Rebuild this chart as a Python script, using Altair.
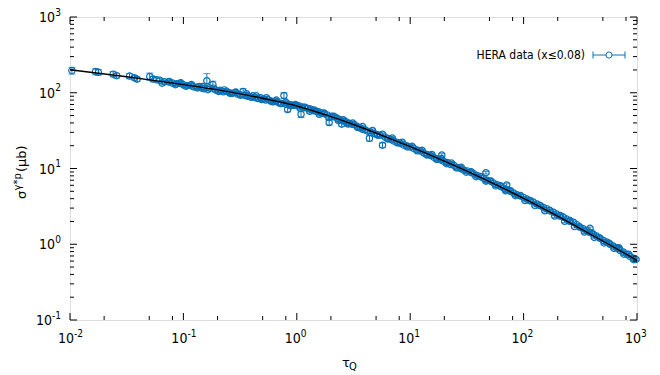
import altair as alt
import pandas as pd

W, H = 567, 303
BLUE = "#0a70b6"
FONT = "DejaVu Sans Condensed, DejaVu Sans"
FONT_R = "DejaVu Sans"

# ---- data: tau_Q, sigma (microbarn), error ----
pt_x = [0.0104, 0.0168, 0.0178, 0.0240, 0.0258, 0.0335, 0.0370, 0.0390, 0.0505, 0.0540,
        0.0580, 0.0620, 0.0680, 0.0740, 0.0800, 0.0870, 0.0930, 0.100, 0.108, 0.115,
        0.122, 0.130, 0.138, 0.145, 0.152, 0.161, 0.170, 0.182, 0.190, 0.200,
        0.212, 0.225, 0.240, 0.255, 0.270, 0.285, 0.300, 0.315, 0.336, 0.350,
        0.370, 0.390, 0.410, 0.430, 0.455, 0.480, 0.505, 0.530, 0.560, 0.590,
        0.620, 0.650, 0.690, 0.730, 0.770, 0.800, 0.830, 0.860, 0.900, 0.950,
        1.00, 1.05, 1.09, 1.12, 1.18, 1.25, 1.32, 1.40, 1.48, 1.56,
        1.65, 1.75, 1.85, 1.93, 2.03, 2.15, 2.28, 2.40, 2.49, 2.60,
        2.75, 2.90, 3.05, 3.20, 3.40, 3.60, 3.80, 4.00, 4.37, 4.50,
        4.80, 5.10, 5.40, 5.70, 6.00, 6.40, 6.80, 7.20, 7.70, 8.20,
        8.70, 9.30, 10.0, 10.7, 11.5, 12.3, 13.2, 14.1, 15.1, 16.2,
        17.3, 18.5, 19.0, 19.8, 21.2, 22.7, 24.3, 26.0, 27.8, 29.7,
        31.8, 34.0, 36.4, 38.9, 41.6, 44.5, 46.6, 47.6, 50.9, 54.5,
        58.3, 62.4, 66.7, 71.0, 71.4, 76.4, 81.7, 87.4, 93.5, 100,
        107, 114, 122, 131, 140, 150, 160, 171, 183, 196,
        210, 224, 240, 257, 275, 294, 314, 336, 360, 385,
        395, 412, 441, 472, 505, 540, 578, 618, 661, 692,
        707, 757, 810, 867, 927, 980]
pt_y = [196, 190, 186, 176, 168, 166, 158, 151, 164, 152,
        148, 146, 140, 139, 134, 131, 133, 127, 124, 126,
        120, 118, 121, 115, 113, 144, 116, 128, 110, 106,
        108, 103, 105, 100, 98, 101, 96, 94, 104, 92,
        90, 88, 91, 86, 84, 86, 82, 80, 81, 78,
        76, 77, 74, 72, 92, 71, 60, 70, 69, 68,
        68, 67, 52, 65, 64, 62, 61, 58, 57, 56,
        54, 53, 51, 40.5, 49, 48, 46, 44, 38.5, 42,
        41, 39.5, 38.5, 38, 36, 34.5, 33, 32.5, 25, 30,
        29, 28, 27.5, 20.3, 26, 24.8, 24, 23, 22, 21.5,
        20.5, 20, 19.2, 18.5, 17.5, 17.0, 16.0, 15.3, 14.8, 14.0,
        13.4, 13.0, 15.1, 12.4, 12.0, 11.3, 11.0, 10.3, 10.0, 9.5,
        9.3, 8.9, 8.5, 8.1, 7.8, 7.4, 8.8, 7.0, 6.8, 6.4,
        6.1, 5.8, 5.5, 6.05, 5.2, 5.0, 4.75, 4.5, 4.35, 4.15,
        3.95, 3.75, 3.6, 3.4, 3.25, 3.05, 2.95, 2.78, 2.65, 2.5,
        2.4, 2.28, 2.15, 2.05, 1.95, 1.82, 1.68, 1.6, 1.52, 1.62,
        1.42, 1.36, 1.28, 1.2, 1.12, 1.07, 1.0, 0.95, 0.9, 0.9,
        0.83, 0.79, 0.74, 0.69, 0.655, 0.63]
pt_err = [20, 17, 15, 14, 12, 13, 11, 10, 18, 12,
          9, 8, 8, 7, 7, 6, 6, 6, 6, 6,
          5, 5, 5, 5, 5, 35, 6, 14, 5, 5,
          5, 5, 5, 5, 4, 5, 4, 4, 9, 4,
          4, 4, 4, 4, 4, 4, 4, 4, 4, 4,
          3, 3, 3, 3, 8, 3, 4, 3, 3, 3,
          3, 3, 5, 3, 3, 3, 3, 3, 3, 2.5,
          2.5, 2.5, 2.5, 3, 2, 2, 2, 2, 2.5, 2,
          2, 1.8, 1.8, 1.6, 1.5, 1.5, 1.4, 1.3, 2, 1.2,
          1.2, 1.1, 1.1, 1.5, 1.0, 1.0, 0.9, 0.9, 0.8, 0.8,
          0.8, 0.7, 0.7, 0.7, 0.7, 0.6, 0.6, 0.6, 0.6, 0.5,
          0.5, 0.5, 0.6, 0.5, 0.5, 0.4, 0.4, 0.4, 0.4, 0.4,
          0.35, 0.35, 0.3, 0.3, 0.3, 0.3, 0.35, 0.3, 0.25, 0.25,
          0.25, 0.2, 0.2, 0.25, 0.2, 0.2, 0.18, 0.18, 0.17, 0.16,
          0.15, 0.15, 0.14, 0.13, 0.13, 0.12, 0.12, 0.11, 0.1, 0.1,
          0.1, 0.09, 0.09, 0.08, 0.08, 0.07, 0.07, 0.07, 0.06, 0.07,
          0.06, 0.06, 0.05, 0.05, 0.05, 0.04, 0.04, 0.04, 0.035, 0.04,
          0.035, 0.03, 0.03, 0.03, 0.03, 0.025]

# second group of measurements (denser part of the band)
pt2_x = [0.065, 0.075, 0.085, 0.095, 0.105, 0.118, 0.133, 0.148, 0.165, 0.185,
         0.205, 0.23, 0.26, 0.29, 0.32, 0.36, 0.40, 0.44, 0.49, 0.54,
         0.60, 0.66, 0.72, 0.80, 0.88, 0.97, 1.07, 1.18, 1.30, 1.43,
         1.58, 1.74, 1.92, 2.12, 2.33, 2.57, 2.83, 3.12, 3.45, 3.80,
         4.20, 4.65, 5.15, 5.70, 6.30, 6.95, 7.70, 8.50, 9.40, 10.4,
         11.5, 12.7, 14.0, 15.5, 17.1, 18.9, 20.9, 23.1, 25.5, 28.2,
         31.2, 34.5, 38.1, 42.1, 46.5, 51.4, 56.8, 62.8, 69.4, 76.7,
         84.7, 93.6, 103, 114, 126, 139, 154, 170, 188, 208,
         230, 254, 281, 311, 344, 380, 420, 464, 513, 567,
         627, 693, 766, 847, 936]
pt2_y = [134, 141, 128, 135, 122, 128, 116, 121, 110, 115,
         104, 109, 98, 102, 93, 97, 87, 91, 81.5, 86,
         76.5, 80, 72, 75, 67, 70, 62.5, 64.5, 57, 59,
         52, 54, 47, 49, 42.8, 44, 38.7, 39.8, 34.8, 35.7,
         31.1, 31.8, 27.6, 28.3, 24.7, 25.2, 21.8, 22.2, 19.3, 19.6,
         17.1, 17.4, 15.1, 15.3, 13.2, 13.5, 11.6, 11.8, 10.2, 10.35,
         8.95, 9.05, 7.8, 7.85, 6.8, 6.85, 5.9, 5.9, 5.08, 5.1,
         4.38, 4.4, 3.78, 3.78, 3.24, 3.24, 2.77, 2.78, 2.36, 2.36,
         2.01, 2.01, 1.71, 1.7, 1.45, 1.44, 1.23, 1.22, 1.04, 1.03,
         0.88, 0.872, 0.74, 0.735, 0.625]
pt2_err = [7, 7, 6, 6, 6, 6, 5, 5, 5, 5,
           5, 5, 4, 4, 4, 4, 4, 4, 4, 4,
           3, 3, 3, 3, 3, 3, 3, 3, 3, 3,
           2.5, 2.5, 2.5, 2, 2, 2, 2, 1.8, 1.7, 1.6,
           1.5, 1.4, 1.3, 1.2, 1.1, 1.1, 1.0, 0.9, 0.9, 0.8,
           0.8, 0.7, 0.7, 0.6, 0.6, 0.5, 0.5, 0.5, 0.4, 0.4,
           0.35, 0.35, 0.3, 0.3, 0.3, 0.25, 0.25, 0.22, 0.2, 0.2,
           0.18, 0.17, 0.15, 0.15, 0.13, 0.12, 0.11, 0.11, 0.1, 0.09,
           0.08, 0.08, 0.07, 0.07, 0.06, 0.06, 0.05, 0.05, 0.04, 0.04,
           0.035, 0.035, 0.03, 0.03, 0.025]

# fitted curve
curve_x = [0.01, 0.0178, 0.0316, 0.0562, 0.1, 0.178, 0.316, 0.562, 1, 1.78,
           3.16, 5.62, 10, 17.8, 31.6, 56.2, 100, 178, 316, 562, 1000]
curve_y = [200.9, 181.1, 162.4, 144.7, 128.2, 112.3, 96.7, 81.4, 66.9, 51.3,
           38.1, 27.4, 19.4, 13.5, 9.24, 6.17, 4.03, 2.57, 1.61, 1.00, 0.614]

# axis ticks and their labels ("10" with a raised exponent)
x_major = [0.01, 0.1, 1, 10, 100, 1000]
x_major_exp = ["-2", "-1", "0", "1", "2", "3"]
x_minor = [0.02, 0.05, 0.08, 0.2, 0.5, 0.8, 2, 5, 8, 20, 50, 80, 200, 500, 800]
y_major = [0.1, 1, 10, 100, 1000]
y_major_exp = ["-1", "0", "1", "2", "3"]
y_minor = [0.2, 0.3, 0.4, 0.5, 0.6, 0.7, 0.8, 0.9,
           2, 3, 4, 5, 6, 7, 8, 9,
           20, 30, 40, 50, 60, 70, 80, 90,
           200, 300, 400, 500, 600, 700, 800, 900]
label_base = "10"
legend_label = "HERA data (x≤0.08)"

pts = pd.concat([pd.DataFrame({"x": pt_x, "y": pt_y, "err": pt_err}),
                 pd.DataFrame({"x": pt2_x, "y": pt2_y, "err": pt2_err})],
                ignore_index=True)
pts["lo"] = pts["y"] - pts["err"]
pts["hi"] = pts["y"] + pts["err"]
curve = pd.DataFrame({"x": curve_x, "y": curve_y})

xscale = alt.Scale(type="log", domain=[0.01, 1000], nice=False)
yscale = alt.Scale(type="log", domain=[0.1, 1000], nice=False)


def X(field):
    return alt.X(field, scale=xscale, axis=None)


def Y(field):
    return alt.Y(field, scale=yscale, axis=None)


bars = alt.Chart(pts).mark_rule(color=BLUE, strokeWidth=1).encode(
    x=X("x:Q"), y=Y("lo:Q"), y2="hi:Q")
cap_lo = alt.Chart(pts).mark_tick(color=BLUE, orient="horizontal", size=7, thickness=1).encode(
    x=X("x:Q"), y=Y("lo:Q"))
cap_hi = alt.Chart(pts).mark_tick(color=BLUE, orient="horizontal", size=7, thickness=1).encode(
    x=X("x:Q"), y=Y("hi:Q"))
points = alt.Chart(pts).mark_point(shape="circle", filled=False, color=BLUE, size=40,
                                   strokeWidth=1.2, opacity=1).encode(x=X("x:Q"), y=Y("y:Q"))
line = alt.Chart(curve).mark_line(color="black", strokeWidth=1.4, interpolate="monotone").encode(
    x=X("x:Q"), y=Y("y:Q"))


def xticks(vals, length, top):
    df = pd.DataFrame({"v": vals})
    y0, y1 = (0, length) if top else (H, H - length)
    return alt.Chart(df).mark_rule(color="black", strokeWidth=1).encode(
        x=X("v:Q"), y=alt.value(y0), y2=alt.value(y1))


def yticks(vals, length, right):
    df = pd.DataFrame({"v": vals})
    x0, x1 = (W, W - length) if right else (0, length)
    return alt.Chart(df).mark_rule(color="black", strokeWidth=1).encode(
        y=Y("v:Q"), x=alt.value(x0), x2=alt.value(x1))


ticks = [xticks(x_major, 7, False), xticks(x_major, 7, True),
         xticks(x_minor, 4, False), xticks(x_minor, 4, True),
         yticks(y_major, 7, False), yticks(y_major, 7, True),
         yticks(y_minor, 4, False), yticks(y_minor, 4, True)]

# tick labels as text drawn through the scales
xlab = pd.DataFrame({"v": x_major, "base": label_base, "exp": x_major_exp})
xl_base = alt.Chart(xlab).mark_text(align="right", baseline="alphabetic", dx=4, font=FONT,
                                    fontSize=14, color="black").encode(
    x=X("v:Q"), y=alt.value(H + 23), text="base:N")
xl_exp = alt.Chart(xlab).mark_text(align="left", baseline="alphabetic", dx=4, font=FONT,
                                   fontSize=10, color="black").encode(
    x=X("v:Q"), y=alt.value(H + 17), text="exp:N")

ylab = pd.DataFrame({"v": y_major, "base": label_base, "exp": y_major_exp})
ylab_neg = ylab[ylab["exp"].str.startswith("-")]
ylab_pos = ylab[~ylab["exp"].str.startswith("-")]
yl_exp = alt.Chart(ylab).mark_text(align="right", baseline="alphabetic", dy=-1.5, font=FONT,
                                   fontSize=10, color="black").encode(
    y=Y("v:Q"), x=alt.value(-9), text="exp:N")
yl_base_pos = alt.Chart(ylab_pos).mark_text(align="right", baseline="alphabetic", dy=5,
                                            font=FONT, fontSize=14, color="black").encode(
    y=Y("v:Q"), x=alt.value(-15), text="base:N")
yl_base_neg = alt.Chart(ylab_neg).mark_text(align="right", baseline="alphabetic", dy=5,
                                            font=FONT, fontSize=14, color="black").encode(
    y=Y("v:Q"), x=alt.value(-18), text="base:N")

one = pd.DataFrame({"label": [legend_label]})
leg_text = alt.Chart(one).mark_text(align="right", baseline="middle", font=FONT,
                                    fontSize=12, color="black").encode(
    text="label:N", x=alt.value(515), y=alt.value(38))
leg_line = alt.Chart(one).mark_rule(color=BLUE, strokeWidth=1).encode(
    x=alt.value(523), x2=alt.value(555), y=alt.value(38))
leg_cap1 = alt.Chart(one).mark_rule(color=BLUE, strokeWidth=1).encode(
    x=alt.value(523), y=alt.value(34.5), y2=alt.value(41.5))
leg_cap2 = alt.Chart(one).mark_rule(color=BLUE, strokeWidth=1).encode(
    x=alt.value(555), y=alt.value(34.5), y2=alt.value(41.5))
leg_pt_bg = alt.Chart(one).mark_point(shape="circle", filled=True, color="white", size=30,
                                      opacity=1).encode(x=alt.value(539), y=alt.value(38))
leg_pt = alt.Chart(one).mark_point(shape="circle", filled=False, color=BLUE, size=38,
                                   strokeWidth=1, opacity=1).encode(
    x=alt.value(539), y=alt.value(38))

# axis titles (with sub/superscripts)
title_tau = alt.Chart(pd.DataFrame({"t": ["τ"]})).mark_text(
    align="center", baseline="alphabetic", font=FONT_R, fontSize=13, color="black").encode(
    text="t:N", x=alt.value(276), y=alt.value(350))
title_q = alt.Chart(pd.DataFrame({"t": ["Q"]})).mark_text(
    align="left", baseline="alphabetic", font=FONT, fontSize=11, color="black").encode(
    text="t:N", x=alt.value(279), y=alt.value(353))

ys1 = alt.Chart(pd.DataFrame({"t": ["σ"]})).mark_text(
    align="left", baseline="alphabetic", angle=270, font=FONT_R, fontSize=13, color="black").encode(
    text="t:N", x=alt.value(-44), y=alt.value(182))
ys2 = alt.Chart(pd.DataFrame({"t": ["γ*p"]})).mark_text(
    align="left", baseline="alphabetic", angle=270, font=FONT_R, fontSize=10, color="black").encode(
    text="t:N", x=alt.value(-49), y=alt.value(173.5))
ys3 = alt.Chart(pd.DataFrame({"t": ["(μb)"]})).mark_text(
    align="left", baseline="alphabetic", angle=270, font=FONT_R, fontSize=13, color="black").encode(
    text="t:N", x=alt.value(-44), y=alt.value(155))

chart = alt.layer(
    bars, cap_lo, cap_hi, points, line, *ticks,
    xl_base, xl_exp, yl_exp, yl_base_pos, yl_base_neg,
    leg_line, leg_cap1, leg_cap2, leg_pt_bg, leg_pt, leg_text,
    title_tau, title_q, ys1, ys2, ys3,
).properties(
    width=W, height=H,
    autosize=alt.AutoSizeParams(type="none"),
    padding={"left": 62, "top": 9, "right": 15, "bottom": 55},
).configure_view(stroke="black", strokeWidth=1.5).configure(background="white")

chart.save("out.html", embed_options={"renderer": "svg", "actions": False})
